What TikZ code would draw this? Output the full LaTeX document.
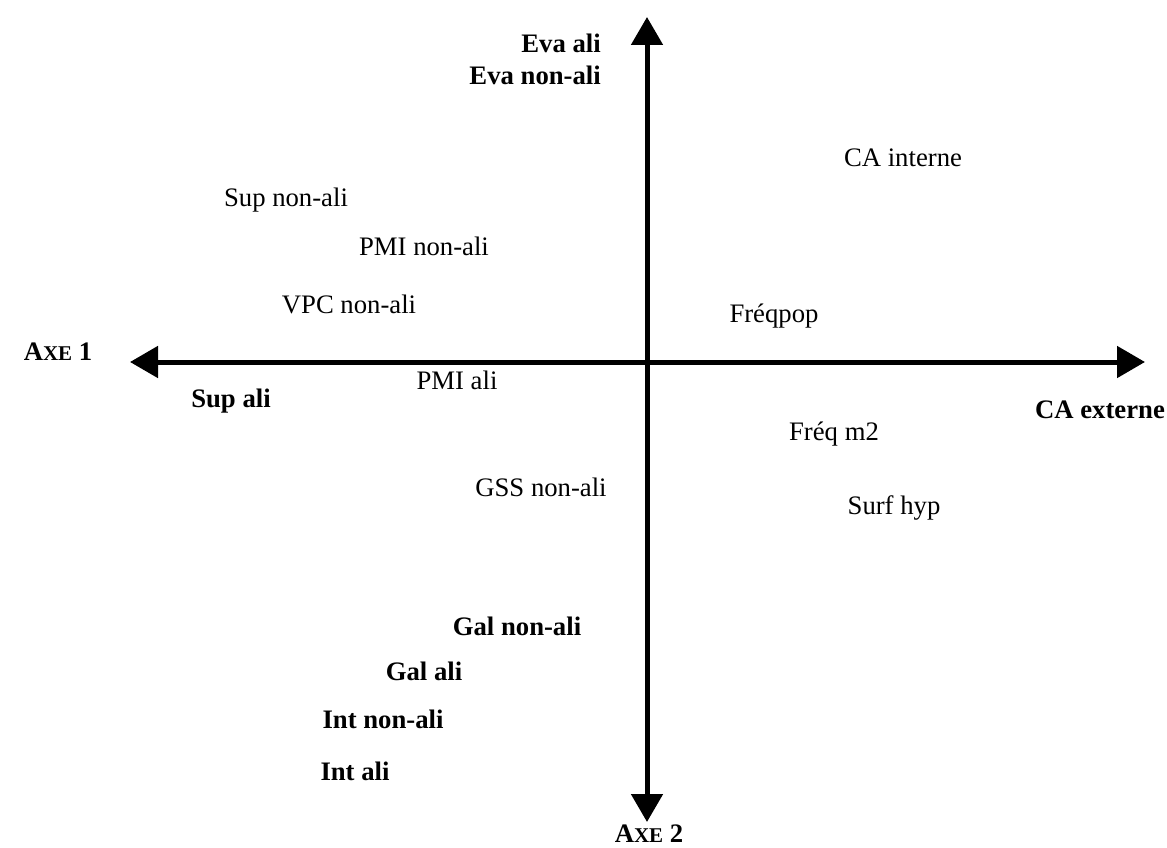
\documentclass[tikz,border=0pt]{standalone}
\usepackage{fontspec}
\setmainfont{Liberation Serif}
\usetikzlibrary{arrows.meta}
\newcommand{\axesc}[2]{#1{\fontsize{21}{24}\selectfont #2}}
\begin{document}
\begin{tikzpicture}[x=1pt,y=-1pt,
  lab/.style={anchor=base,inner sep=0pt,font=\fontsize{26.7}{30}\selectfont},
  blab/.style={lab,font=\fontsize{26.7}{30}\selectfont\bfseries},
  axis/.style={line width=5pt,-{Triangle[length=28pt,width=31pt]}}]
\useasboundingbox (0,0) rectangle (1167,848);
\coordinate (c) at (647,362);
\coordinate (L) at (130,362);
\coordinate (R) at (1145,362);
\coordinate (T) at (647,17);
\coordinate (B) at (647,822);
\draw[axis] (c) -- (L);
\draw[axis] (c) -- (R);
\draw[axis] (c) -- (T);
\draw[axis] (c) -- (B);
\node[blab,anchor=base east] (evaali) at (601,53) {Eva ali};
\node[blab,anchor=base east] (evanon) at (601,85) {Eva non-ali};
\node[lab] (cai) at (903,166) {CA interne};
\node[lab] (supnon) at (286,206) {Sup non-ali};
\node[lab] (pminon) at (424,255) {PMI non-ali};
\node[lab] (vpcnon) at (349,313) {VPC non-ali};
\node[lab] (freqpop) at (774,322) {Fréqpop};
\node[blab] (axe1) at (58,360) {\axesc{A}{XE} 1};
\node[blab] (cae) at (1100,418) {CA externe};
\node[lab] (pmiali) at (457,389) {PMI ali};
\node[blab] (supali) at (231,407) {Sup ali};
\node[lab] (freqm) at (834,440) {Fréq m2};
\node[lab] (gssnon) at (541,496) {GSS non-ali};
\node[lab] (surf) at (894,514) {Surf hyp};
\node[blab] (galnon) at (517,635) {Gal non-ali};
\node[blab] (galali) at (424,680) {Gal ali};
\node[blab] (intnon) at (383,728) {Int non-ali};
\node[blab] (intali) at (355,780) {Int ali};
\node[blab] (axe2) at (649,842) {\axesc{A}{XE} 2};
\end{tikzpicture}
\end{document}
